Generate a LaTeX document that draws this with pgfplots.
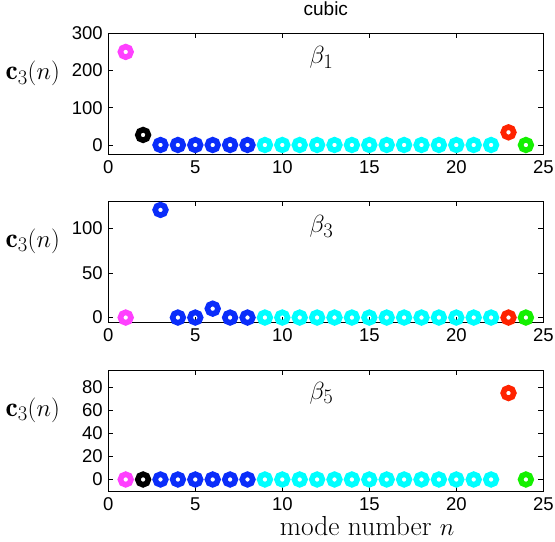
\documentclass[border=0pt]{standalone}
\usepackage{fontspec}
\usepackage{pgfplots}
\pgfplotsset{compat=1.18}
\newfontfamily\hv{Liberation Sans}
\definecolor{mmag}{RGB}{255,64,255}
\definecolor{mblue}{RGB}{10,45,250}
\definecolor{mcyan}{RGB}{0,255,255}
\definecolor{mred}{RGB}{255,35,0}
\definecolor{mgreen}{RGB}{20,240,0}
\pgfplotsset{
  panel/.style={
    scale only axis, width=435bp, height=121bp,
    xmin=0, xmax=25, xtick={0,5,...,25},
    tick align=inside, major tick length=5bp,
    axis line style={line width=0.8bp},
    every tick/.style={black, line width=0.6bp},
    /pgf/number format/assume math mode=true,
    ticklabel style={font=\hv\fontsize{18.5bp}{20bp}\selectfont},
    xticklabel style={yshift=-3bp},
    yticklabel style={xshift=-2bp},
    ylabel={$\mathbf{c}_3(n)$},
    ylabel style={rotate=-90, at={(rel axis cs:0,0.67)}, anchor=east, xshift=-45bp, font=\fontsize{27.5bp}{29bp}\selectfont},
    clip=false,
  },
  ring/.style={only marks, mark=o, mark size=5.3bp, line width=5.6bp, color=#1},
}
\begin{document}
\begin{tikzpicture}
\path[use as bounding box] (-108.3bp,33.3bp) rectangle (446.7bp,-508.7bp);
% Panel 1
\begin{axis}[panel, at={(0,0)}, anchor=north west,
  ymin=-25, ymax=300, ytick={0,100,200,300},
  title={cubic}, title style={at={(rel axis cs:0.5,1)}, anchor=base, yshift=12bp, font=\hv\fontsize{19bp}{21bp}\selectfont}]
\addplot[ring=mmag] coordinates {(1,250)};
\addplot[ring=black] coordinates {(2,27)};
\addplot[ring=mblue] coordinates {(3,0) (4,0) (5,0) (6,0) (7,0) (8,0)};
\addplot[ring=mcyan] coordinates {(9,0) (10,0) (11,0) (12,0) (13,0) (14,0) (15,0) (16,0) (17,0) (18,0) (19,0) (20,0) (21,0) (22,0)};
\addplot[ring=mred] coordinates {(23,34)};
\addplot[ring=mgreen] coordinates {(24,0)};
\node[font=\fontsize{27.5bp}{29bp}\selectfont] at (rel axis cs:0.49,0.8) {$\beta_1$};
\end{axis}
% Panel 2
\begin{axis}[panel, at={(0,-167.7bp)}, anchor=north west,
  ymin=-5, ymax=131, ytick={0,50,100}]
\addplot[ring=mmag] coordinates {(1,0)};
\addplot[ring=mblue] coordinates {(3,121) (4,0) (5,0) (6,10) (7,0) (8,0)};
\addplot[ring=mcyan] coordinates {(9,0) (10,0) (11,0) (12,0) (13,0) (14,0) (15,0) (16,0) (17,0) (18,0) (19,0) (20,0) (21,0) (22,0)};
\addplot[ring=mred] coordinates {(23,0)};
\addplot[ring=mgreen] coordinates {(24,0)};
\node[font=\fontsize{27.5bp}{29bp}\selectfont] at (rel axis cs:0.49,0.79) {$\beta_3$};
\end{axis}
% Panel 3
\begin{axis}[panel, at={(0,-336.7bp)}, anchor=north west,
  ymin=-10, ymax=95, ytick={0,20,40,60,80},
  xlabel={mode number $n$},
  xlabel style={at={(rel axis cs:0.595,0)}, anchor=base, yshift=-44bp, font=\fontsize{27.5bp}{29bp}\selectfont}]
\addplot[ring=mmag] coordinates {(1,0)};
\addplot[ring=black] coordinates {(2,0)};
\addplot[ring=mblue] coordinates {(3,0) (4,0) (5,0) (6,0) (7,0) (8,0)};
\addplot[ring=mcyan] coordinates {(9,0) (10,0) (11,0) (12,0) (13,0) (14,0) (15,0) (16,0) (17,0) (18,0) (19,0) (20,0) (21,0) (22,0)};
\addplot[ring=mred] coordinates {(23,75)};
\addplot[ring=mgreen] coordinates {(24,0)};
\node[font=\fontsize{27.5bp}{29bp}\selectfont] at (rel axis cs:0.49,0.81) {$\beta_5$};
\end{axis}
\end{tikzpicture}
\end{document}
